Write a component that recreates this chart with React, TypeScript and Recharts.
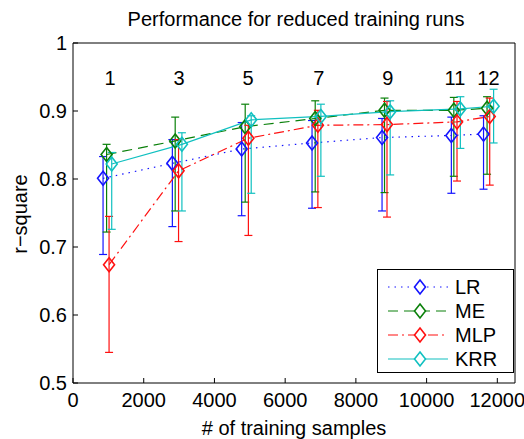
import {
  ComposedChart,
  ErrorBar,
  Line,
  Scatter,
  XAxis,
  YAxis,
} from "recharts";

const runLabels = ["1", "3", "5", "7", "9", "11", "12"];
const runLabelX = [1050, 3000, 4950, 6950, 8900, 10800, 11750];
const runLabelY = 0.949;

const xTicks = [0, 2000, 4000, 6000, 8000, 10000, 12000];
const yTicks = [0.5, 0.6, 0.7, 0.8, 0.9, 1];

const lrX = [850, 2810, 4770, 6760, 8740, 10700, 11610];
const lrY = [0.801, 0.823, 0.844, 0.853, 0.861, 0.864, 0.866];
const lrLow = [0.689, 0.73, 0.746, 0.757, 0.753, 0.779, 0.785];
const lrHigh = [0.833, 0.858, 0.883, 0.886, 0.889, 0.891, 0.893];

const meX = [950, 2890, 4870, 6850, 8810, 10770, 11710];
const meY = [0.836, 0.856, 0.877, 0.889, 0.901, 0.901, 0.904];
const meLow = [0.722, 0.753, 0.766, 0.781, 0.78, 0.804, 0.807];
const meHigh = [0.851, 0.891, 0.91, 0.915, 0.919, 0.92, 0.921];

const mlpX = [1020, 2985, 4960, 6925, 8880, 10860, 11785];
const mlpY = [0.674, 0.812, 0.86, 0.879, 0.88, 0.884, 0.892];
const mlpLow = [0.545, 0.708, 0.717, 0.758, 0.744, 0.797, 0.791];
const mlpHigh = [0.745, 0.858, 0.879, 0.901, 0.914, 0.914, 0.919];

const krrX = [1095, 3080, 5040, 7010, 8970, 10955, 11895];
const krrY = [0.822, 0.851, 0.887, 0.892, 0.899, 0.903, 0.907];
const krrLow = [0.726, 0.753, 0.779, 0.804, 0.806, 0.845, 0.853];
const krrHigh = [0.839, 0.868, 0.893, 0.91, 0.915, 0.921, 0.932];

const FONT = "Arial, 'Liberation Sans', Helvetica, sans-serif";

function build(xs: number[], ys: number[], lo: number[], hi: number[]) {
  return xs.map((x, i) => ({
    x,
    y: ys[i],
    err: [ys[i] - lo[i], hi[i] - ys[i]],
  }));
}

const series = [
  { name: "LR", color: "#1414ff", dash: "1.5 5", data: build(lrX, lrY, lrLow, lrHigh) },
  { name: "ME", color: "#0a800a", dash: "10 6", data: build(meX, meY, meLow, meHigh) },
  { name: "MLP", color: "#ff1010", dash: "10 4 2 4", data: build(mlpX, mlpY, mlpLow, mlpHigh) },
  { name: "KRR", color: "#10c0c0", dash: undefined, data: build(krrX, krrY, krrLow, krrHigh) },
];

const labelData = runLabels.map((t, i) => ({ x: runLabelX[i], y: runLabelY, t }));

function diamondPath(cx: number, cy: number) {
  return `M${cx},${cy - 7} L${cx + 5.5},${cy} L${cx},${cy + 7} L${cx - 5.5},${cy} Z`;
}

function Legend() {
  return (
    <div
      style={{
        position: "absolute",
        left: 377,
        top: 269,
        width: 137,
        height: 104,
        border: "1px solid #000",
        background: "#fff",
        boxSizing: "border-box",
      }}
    >
      <svg width={135} height={102}>
        {series.map((s, i) => {
          const cy = 17 + i * 24;
          return (
            <g key={s.name}>
              <line x1={10} x2={70} y1={cy} y2={cy} stroke={s.color} strokeWidth={1.2} strokeDasharray={s.dash} />
              <path d={diamondPath(42, cy)} fill="#fff" stroke={s.color} strokeWidth={1.6} />
              <text x={77} y={cy + 7} fontSize={20} fontFamily={FONT} fill="#000">
                {s.name}
              </text>
            </g>
          );
        })}
      </svg>
    </div>
  );
}

export default function App() {
  return (
    <div
      style={{
        position: "fixed",
        left: 0,
        top: 0,
        width: 524,
        height: 439,
        background: "#fff",
        fontFamily: FONT,
      }}
    >
      <svg width={524} height={439} style={{ position: "absolute", left: 0, top: 0 }}>
        <text x={296} y={26} textAnchor="middle" fontSize={20} fontFamily={FONT} fill="#000">
          Performance for reduced training runs
        </text>
        <text x={294} y={435} textAnchor="middle" fontSize={20} fontFamily={FONT} fill="#000">
          # of training samples
        </text>
        <text
          x={27}
          y={214}
          textAnchor="middle"
          fontSize={20}
          fontFamily={FONT}
          fill="#000"
          transform="rotate(-90 27 214)"
        >
          r−square
        </text>
      </svg>
      <div style={{ position: "absolute", left: 0, top: 0 }}>
        <ComposedChart
          width={524}
          height={439}
          margin={{ top: 23, right: 0, bottom: 0, left: 0 }}
          style={{ fontFamily: FONT }}
        >
          <XAxis
            xAxisId="bottom"
            dataKey="x"
            type="number"
            domain={[0, 12500]}
            ticks={xTicks}
            allowDataOverflow
            height={56}
            tickSize={-5}
            tickMargin={15}
            stroke="#000"
            tick={{ fill: "#000", fontSize: 20 }}
          />
          <XAxis
            xAxisId="top"
            orientation="top"
            dataKey="x"
            type="number"
            domain={[0, 12500]}
            ticks={xTicks}
            allowDataOverflow
            height={20}
            tickSize={-5}
            tick={false}
            stroke="#000"
          />
          <YAxis
            yAxisId="left"
            type="number"
            domain={[0.5, 1]}
            ticks={yTicks}
            allowDataOverflow
            width={73}
            tickSize={-5}
            tickMargin={11}
            stroke="#000"
            tick={{ fill: "#000", fontSize: 20 }}
            tickFormatter={(v) => String(Number(Number(v).toFixed(1)))}
          />
          <YAxis
            yAxisId="right"
            orientation="right"
            type="number"
            domain={[0.5, 1]}
            ticks={yTicks}
            allowDataOverflow
            width={9}
            tickSize={-5}
            tick={false}
            stroke="#000"
          />
          {series.map((s) => (
            <Line
              key={s.name}
              xAxisId="bottom"
              yAxisId="left"
              data={s.data}
              dataKey="y"
              type="linear"
              stroke={s.color}
              strokeWidth={1.2}
              strokeDasharray={s.dash}
              isAnimationActive={false}
              dot={(p: any) => (
                <path
                  key={`${s.name}-${p.index}`}
                  d={diamondPath(p.cx, p.cy)}
                  fill="none"
                  stroke={s.color}
                  strokeWidth={1.6}
                />
              )}
              activeDot={false}
            >
              <ErrorBar dataKey="err" direction="y" width={4} stroke={s.color} strokeWidth={1.2} />
            </Line>
          ))}
          <Scatter
            xAxisId="top"
            yAxisId="right"
            data={labelData}
            dataKey="y"
            isAnimationActive={false}
            shape={(p: any) => (
              <text
                x={p.cx}
                y={p.cy + 7}
                textAnchor="middle"
                fontSize={20}
                fontFamily={FONT}
                fill="#000"
              >
                {p.payload.t}
              </text>
            )}
          />
        </ComposedChart>
      </div>
      <Legend />
    </div>
  );
}
